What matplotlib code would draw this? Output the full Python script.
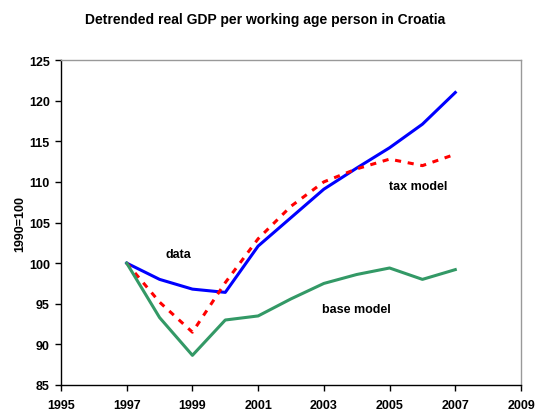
import matplotlib
matplotlib.use("Agg")
import matplotlib.pyplot as plt

years = [1997, 1998, 1999, 2000, 2001, 2002, 2003, 2004, 2005, 2006, 2007]
data = [100.0, 98.0, 96.8, 96.4, 102.1, 105.6, 109.1, 111.7, 114.2, 117.1, 121.0]
tax_model = [100.0, 95.2, 91.5, 97.6, 103.0, 107.0, 110.0, 111.6, 112.8, 112.0, 113.4]
base_model = [100.0, 93.3, 88.65, 93.0, 93.5, 95.6, 97.5, 98.6, 99.4, 98.0, 99.2]
xticks = [1995, 1997, 1999, 2001, 2003, 2005, 2007, 2009]
yticks = [85, 90, 95, 100, 105, 110, 115, 120, 125]

plt.rcParams['font.family'] = ['Liberation Sans', 'DejaVu Sans']
plt.rcParams['font.weight'] = 'bold'

fig = plt.figure(figsize=(5.36, 4.14), dpi=100)
ax = fig.add_axes([61/536, 1-386/414, 460/536, 325/414])

ax.plot(years, data, color='#0000FF', lw=2.2, solid_joinstyle='round')
ax.plot(years, tax_model, color='#FF0000', lw=2.2, linestyle=(0, (2, 2.2)))
ax.plot(years, base_model, color='#339966', lw=2.2)

ax.set_xlim(1995, 2009)
ax.set_ylim(85, 125)
ax.set_xticks(xticks)
ax.set_yticks(yticks)
ax.tick_params(axis='both', direction='out', length=4, width=1, labelsize=9)
ax.tick_params(axis='x', pad=6)
ax.tick_params(axis='y', pad=4)
for lab in ax.get_xticklabels() + ax.get_yticklabels():
    lab.set_fontweight('bold')

for s in ['top', 'right']:
    ax.spines[s].set_color('#999999')
    ax.spines[s].set_linewidth(1)
for s in ['left', 'bottom']:
    ax.spines[s].set_color('black')
    ax.spines[s].set_linewidth(1)

ax.set_ylabel('1990=100', fontsize=9, fontweight='bold', labelpad=2)

ax.text(1998.56, 101.1, 'data', fontsize=9, fontweight='bold', ha='center', va='center')
ax.text(2005.86, 109.5, 'tax model', fontsize=9, fontweight='bold', ha='center', va='center')
ax.text(2003.98, 94.35, 'base model', fontsize=9, fontweight='bold', ha='center', va='center')

fig.text(0.495, 1-20/414, 'Detrended real GDP per working age person in Croatia',
         fontsize=10, fontweight='bold', ha='center', va='center')

fig.savefig('out.png', dpi=100)
